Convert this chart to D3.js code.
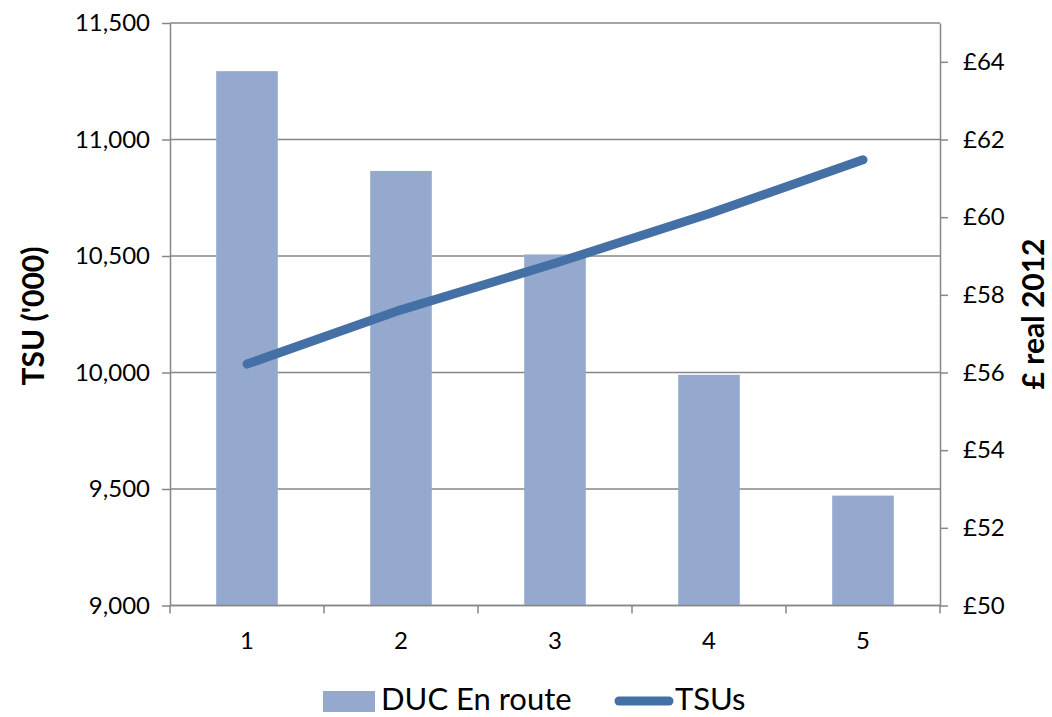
<!DOCTYPE html>
<html>
<head>
<meta charset="utf-8">
<script src="https://cdn.jsdelivr.net/npm/d3@7"></script>
<style>
    body { margin: 0; background: #fff; }
    text { font-family: Lato, "Open Sans", sans-serif; fill: #000; }
</style>
</head>
<body>
<svg id="chart" width="1052" height="717"></svg>
<script>
// chart data
const categories = ["1", "2", "3", "4", "5"];
const ducValues = [63.76, 61.19, 59.04, 55.94, 52.83]; // bars, £ real 2012 (right axis)
const tsuValues = [10036, 10269, 10469, 10681, 10913]; // line, TSU ('000) (left axis)
const leftTicks = [9000, 9500, 10000, 10500, 11000, 11500];
const rightTicks = [50, 52, 54, 56, 58, 60, 62, 64];

const svg = d3.select("#chart");
const margin = { top: 23, right: 112, bottom: 111.5, left: 170 };
const width = +svg.attr("width") - margin.left - margin.right;
const height = +svg.attr("height") - margin.top - margin.bottom;

const gridColor = "#878787";
const barColor = "#95a9cf";
const lineColor = "#4470a6";

const g = svg.append("g").attr("transform", `translate(${margin.left},${margin.top})`);

// scales
const x = d3.scaleBand().domain(categories).range([0, width]).paddingInner(0.6).paddingOuter(0.3);
const yLeft = d3.scaleLinear().domain([9000, 11500]).range([height, 0]);
const yRight = d3.scaleLinear().domain([50, 65]).range([height, 0]);

// horizontal grid lines
g.append("g").selectAll("line").data(leftTicks).join("line")
    .attr("x1", 0).attr("x2", width)
    .attr("y1", d => yLeft(d)).attr("y2", d => yLeft(d))
    .attr("stroke", gridColor).attr("stroke-width", 1.5);

// bars
g.append("g").selectAll("rect").data(ducValues).join("rect")
    .attr("x", (d, i) => x(categories[i]))
    .attr("y", d => yRight(d))
    .attr("width", x.bandwidth())
    .attr("height", d => height - yRight(d))
    .attr("fill", barColor);

// line
const line = d3.line()
    .x((d, i) => x(categories[i]) + x.bandwidth() / 2)
    .y(d => yLeft(d));
g.append("path").datum(tsuValues)
    .attr("d", line)
    .attr("fill", "none")
    .attr("stroke", lineColor)
    .attr("stroke-width", 9)
    .attr("stroke-linecap", "round")
    .attr("stroke-linejoin", "round");

// axes
function styleAxis(sel) {
    sel.select(".domain").attr("stroke", gridColor).attr("stroke-width", 1.5);
    sel.selectAll(".tick line").attr("stroke", gridColor).attr("stroke-width", 1.5);
    sel.selectAll(".tick text").attr("font-size", 24).attr("fill", "#000");
}

g.append("g")
    .call(d3.axisLeft(yLeft).tickValues(leftTicks).tickFormat(d3.format(",")).tickSize(8).tickSizeOuter(0).tickPadding(12))
    .call(styleAxis);

g.append("g").attr("transform", `translate(${width},0)`)
    .call(d3.axisRight(yRight).tickValues(rightTicks).tickFormat(d => "£" + d).tickSize(8).tickSizeOuter(0).tickPadding(15))
    .call(styleAxis);

// x axis: ticks between categories
const xAxis = g.append("g").attr("transform", `translate(0,${height})`);
xAxis.append("line").attr("x1", 0).attr("x2", width)
    .attr("stroke", gridColor).attr("stroke-width", 1.5);
const bounds = d3.range(categories.length + 1).map(i => i * width / categories.length);
xAxis.selectAll(".xt").data(bounds).join("line")
    .attr("class", "xt")
    .attr("x1", d => d).attr("x2", d => d)
    .attr("y1", 0).attr("y2", 8)
    .attr("stroke", gridColor).attr("stroke-width", 1.5);
xAxis.selectAll(".xl").data(categories).join("text")
    .attr("class", "xl")
    .attr("x", d => x(d) + x.bandwidth() / 2)
    .attr("y", 43)
    .attr("text-anchor", "middle")
    .attr("font-size", 24)
    .text(d => d);

// axis titles
svg.append("text")
    .attr("transform", `translate(44,316) rotate(-90)`)
    .attr("text-anchor", "middle")
    .attr("font-size", 30).attr("font-weight", "bold")
    .text("TSU ('000)");
svg.append("text")
    .attr("transform", `translate(1044,314) rotate(-90)`)
    .attr("text-anchor", "middle")
    .attr("font-size", 30).attr("font-weight", "bold")
    .text("£ real 2012");

// legend
const legend = svg.append("g").attr("transform", "translate(0,701)");
legend.append("rect").attr("x", 323).attr("y", -10).attr("width", 52).attr("height", 21).attr("fill", barColor);
legend.append("text").attr("x", 381).attr("y", 9).attr("font-size", 31).text("DUC En route");
legend.append("line").attr("x1", 619).attr("x2", 669).attr("y1", 0).attr("y2", 0)
    .attr("stroke", lineColor).attr("stroke-width", 9).attr("stroke-linecap", "round");
legend.append("text").attr("x", 675).attr("y", 9).attr("font-size", 31).text("TSUs");
</script>
</body>
</html>
